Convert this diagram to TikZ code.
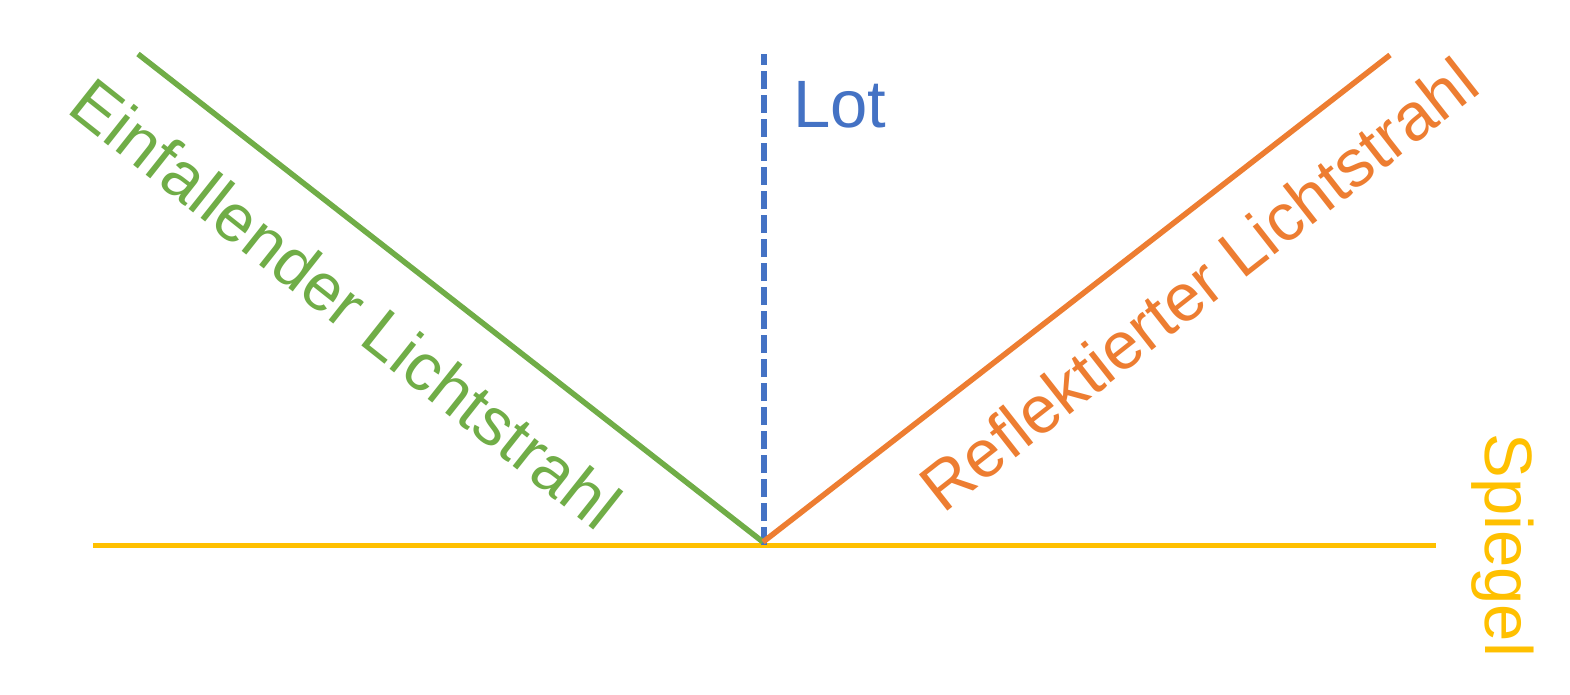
\documentclass[tikz,border=0pt]{standalone}
\usepackage{fontspec}
\setmainfont{Liberation Sans}
\definecolor{raygreen}{HTML}{70AD47}
\definecolor{rayorange}{HTML}{ED7D31}
\definecolor{lotblue}{HTML}{4472C4}
\definecolor{mirroryellow}{HTML}{FFC000}
\tikzset{
  ray/.style={line width=5.5pt},
  lbl/.style={inner sep=0pt, outer sep=0pt, anchor=base west, font=\fontsize{67}{80}\selectfont},
}
\begin{document}
\begin{tikzpicture}[x=1pt,y=-1pt]
\fill[white] (0,0) rectangle (1570,695);
\useasboundingbox (0,0) rectangle (1570,695);
% coordinates
\coordinate (A) at (138,54);
\coordinate (O) at (763,542);
\coordinate (B) at (1390,55);
\coordinate (Lb) at (764,545);
\coordinate (Lt) at (764,54);
\coordinate (M1) at (93,545.5);
\coordinate (M2) at (1436,545.5);
% mirror
\draw[ray, mirroryellow] (M1) -- (M2);
% normal (Lot)
\draw[ray, lotblue, dash pattern=on 18pt off 6pt] (Lb) -- (Lt);
% rays
\draw[ray, raygreen, line join=miter] (A) -- (O);
\draw[ray, rayorange] (O) -- (B);
% labels
\node[lbl, text=lotblue] (lot) at (793,128) {Lot};
\node[lbl, text=raygreen, rotate=-38.4] (ein) at (65.9,111.7) {Einfallender Lichtstrahl};
\node[lbl, text=rayorange, rotate=38.1] (ref) at (943.8,514.3) {Reflektierter Lichtstrahl};
\node[lbl, text=mirroryellow, rotate=-90] (spi) at (1485,433.6) {Spiegel};
\end{tikzpicture}
\end{document}
